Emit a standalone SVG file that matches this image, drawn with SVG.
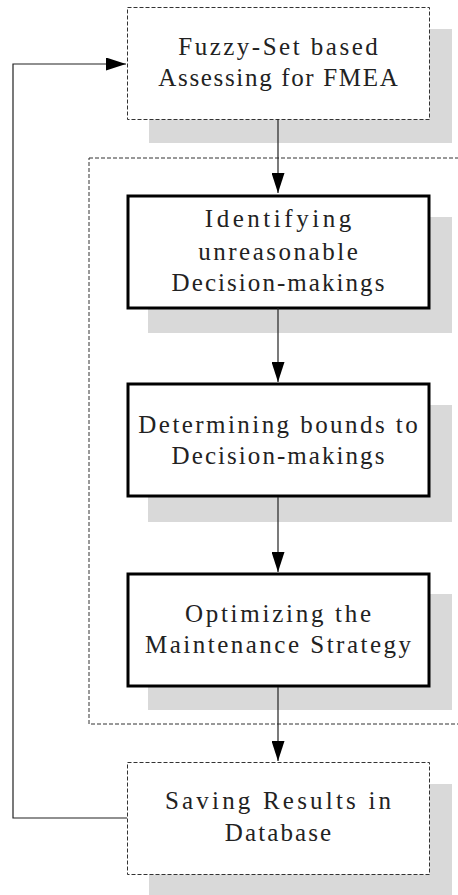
<svg xmlns="http://www.w3.org/2000/svg" width="458" height="895" viewBox="0 0 458 895">
<style>
.shadow{fill:#d9d9d9}
.dbox{fill:#fff;stroke:#333;stroke-width:1;stroke-dasharray:4 2}
.sbox{fill:#fff;stroke:#000;stroke-width:3}
.lbl{font-family:"Liberation Serif",serif;font-size:25px;fill:#222;text-anchor:middle}
.conn{fill:none;stroke:#222;stroke-width:1.2}
</style>
<defs>
<marker id="ah" markerUnits="userSpaceOnUse" markerWidth="21" markerHeight="13" refX="20" refY="6.5" orient="auto">
<path d="M0,0 L20,6.5 L0,13 z" fill="#000"/>
</marker>
</defs>
<rect id="container" x="89" y="158" width="380" height="566" fill="none" stroke="#333" stroke-width="1" stroke-dasharray="4 2"/>
<g id="n1">
<rect class="shadow" x="149" y="29" width="303" height="114"/>
<rect class="dbox" x="127.5" y="7.5" width="302" height="112"/>
<text class="lbl" x="278" y="55" textLength="199.5" lengthAdjust="spacing">Fuzzy-Set based</text>
<text class="lbl" x="278" y="86" textLength="239.4" lengthAdjust="spacing">Assessing for FMEA</text>
</g>
<g id="n2">
<rect class="shadow" x="148" y="217" width="304" height="116"/>
<rect class="sbox" x="128" y="196" width="301" height="112"/>
<text class="lbl" x="278" y="227" textLength="146.3" lengthAdjust="spacing">Identifying</text>
<text class="lbl" x="278" y="260" textLength="159.6" lengthAdjust="spacing">unreasonable</text>
<text class="lbl" x="278" y="291" textLength="212.8" lengthAdjust="spacing">Decision-makings</text>
</g>
<g id="n3">
<rect class="shadow" x="148" y="405" width="304" height="117"/>
<rect class="sbox" x="128" y="384" width="301" height="112"/>
<text class="lbl" x="278" y="433" textLength="279.3" lengthAdjust="spacing">Determining bounds to</text>
<text class="lbl" x="278" y="464" textLength="212.8" lengthAdjust="spacing">Decision-makings</text>
</g>
<g id="n4">
<rect class="shadow" x="148" y="594" width="304" height="116"/>
<rect class="sbox" x="128" y="574" width="301" height="112"/>
<text class="lbl" x="278" y="622" textLength="186.2" lengthAdjust="spacing">Optimizing the</text>
<text class="lbl" x="278" y="653" textLength="266" lengthAdjust="spacing">Maintenance Strategy</text>
</g>
<g id="n5">
<rect class="shadow" x="149" y="784" width="303" height="111"/>
<rect class="dbox" x="127.5" y="762.5" width="302" height="112"/>
<text class="lbl" x="278" y="809" textLength="226.1" lengthAdjust="spacing">Saving Results in</text>
<text class="lbl" x="278" y="841" textLength="106.4" lengthAdjust="spacing">Database</text>
</g>
<g id="connectors">
<path class="conn" d="M278,119 V193" marker-end="url(#ah)"/>
<path class="conn" d="M278,308 V382" marker-end="url(#ah)"/>
<path class="conn" d="M278,497 V572" marker-end="url(#ah)"/>
<path class="conn" d="M278,687 V761" marker-end="url(#ah)"/>
<path class="conn" d="M127,818 H13 V64 H126" marker-end="url(#ah)"/>
</g>
</svg>
